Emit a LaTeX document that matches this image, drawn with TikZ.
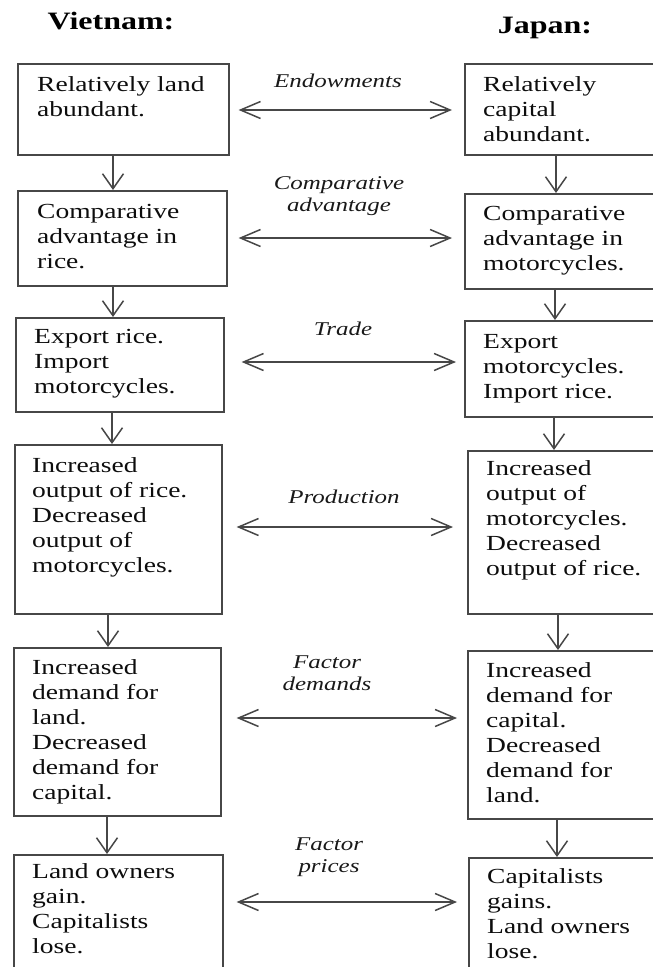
\documentclass[tikz,border=0pt]{standalone}
\usepackage{fontspec}
\setmainfont[FakeStretch=1.28]{Liberation Serif}
\usetikzlibrary{arrows.meta,calc}
\begin{document}
\begin{tikzpicture}[x=1pt,y=-1pt,
  box/.style={draw=black!72, line width=1.6pt, rectangle, inner sep=0pt, anchor=north west},
  txt/.style={anchor=base west, align=left, inner sep=0pt, text=black!95, font=\fontsize{21.5}{25}\selectfont},
  lab/.style={anchor=base, align=center, inner sep=0pt, text=black!90, font=\fontsize{19.5}{21.5}\selectfont\itshape},
  ttl/.style={anchor=base, inner sep=0pt, text=black, font=\fontsize{25}{30}\selectfont\bfseries},
  varr/.style={draw=black!72, line width=1.5pt, -{Straight Barb[length=15pt,width=21pt]}},
  harr/.style={draw=black!72, line width=1.5pt, {Straight Barb[length=20pt,width=17pt]}-{Straight Barb[length=20pt,width=17pt]}},
]
\useasboundingbox (0,0) rectangle (653,967);
\clip (0,0) rectangle (653,967);

% titles
\node[ttl] (tv) at (111,29) {Vietnam:};
\node[ttl] (tj) at (545,33) {Japan:};

% left boxes
\node[box, minimum width=211pt, minimum height=91pt]  (L1) at (17,63) {};
\node[box, minimum width=209pt, minimum height=95pt]  (L2) at (17,190) {};
\node[box, minimum width=208pt, minimum height=94pt]  (L3) at (15,317) {};
\node[box, minimum width=207pt, minimum height=169pt] (L4) at (14,444) {};
\node[box, minimum width=207pt, minimum height=168pt] (L5) at (13,647) {};
\node[box, minimum width=209pt, minimum height=140pt] (L6) at (13,854) {};

% right boxes
\node[box, minimum width=211pt, minimum height=91pt]  (R1) at (464,63) {};
\node[box, minimum width=211pt, minimum height=95pt]  (R2) at (464,193) {};
\node[box, minimum width=211pt, minimum height=96pt]  (R3) at (464,320) {};
\node[box, minimum width=211pt, minimum height=163pt] (R4) at (467,450) {};
\node[box, minimum width=211pt, minimum height=168pt] (R5) at (467,650) {};
\node[box, minimum width=211pt, minimum height=140pt] (R6) at (468,857) {};

% left texts (anchor = baseline of last line)
\node[txt] (L1t) at (37,116) {Relatively land\\abundant.};
\node[txt] (L2t) at (37,268) {Comparative\\advantage in\\rice.};
\node[txt] (L3t) at (34,393) {Export rice.\\Import\\motorcycles.};
\node[txt] (L4t) at (32,572) {Increased\\output of rice.\\Decreased\\output of\\motorcycles.};
\node[txt] (L5t) at (32,799) {Increased\\demand for\\land.\\Decreased\\demand for\\capital.};
\node[txt] (L6t) at (32,953) {Land owners\\gain.\\Capitalists\\lose.};

% right texts
\node[txt] (R1t) at (483,141) {Relatively\\capital\\abundant.};
\node[txt] (R2t) at (483,270) {Comparative\\advantage in\\motorcycles.};
\node[txt] (R3t) at (483,398) {Export\\motorcycles.\\Import rice.};
\node[txt] (R4t) at (486,575) {Increased\\output of\\motorcycles.\\Decreased\\output of rice.};
\node[txt] (R5t) at (486,802) {Increased\\demand for\\capital.\\Decreased\\demand for\\land.};
\node[txt] (R6t) at (487,958) {Capitalists\\gains.\\Land owners\\lose.};

% labels
\node[lab] (e1) at (338,87)  {Endowments};
\node[lab] (e2) at (339,211) {Comparative\\advantage};
\node[lab] (e3) at (343,335) {Trade};
\node[lab] (e4) at (344,503) {Production};
\node[lab] (e5) at (327,690) {Factor\\demands};
\node[lab] (e6) at (329,872) {Factor\\prices};

% vertical arrows
\foreach \i/\j/\xl/\xr in {1/2/113/556, 2/3/113/555, 3/4/112/554, 4/5/108/558, 5/6/107/557} {
  \coordinate (vl\i) at (\xl,0);
  \coordinate (vr\i) at (\xr,0);
  \draw[varr] (L\i.south -| vl\i) -- (L\j.north -| vl\i);
  \draw[varr] (R\i.south -| vr\i) -- (R\j.north -| vr\i);
}

% horizontal double arrows
\foreach \i/\y/\a/\b in {1/110/9/12, 2/238/11/12, 3/362/17/8, 4/527/14/14, 5/718/15/10, 6/902/13/11} {
  \coordinate (h\i) at (0,\y);
  \draw[harr, shorten <=\a pt, shorten >=\b pt] (L\i.east |- h\i) -- (R\i.west |- h\i);
}
\end{tikzpicture}
\end{document}
